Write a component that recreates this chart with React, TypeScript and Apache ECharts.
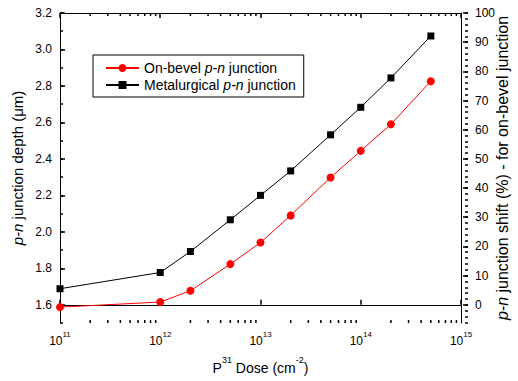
import React, { useEffect, useRef } from 'react';
import * as echarts from 'echarts';

const doses = [1e11, 1e12, 2e12, 5e12, 1e13, 2e13, 5e13, 1e14, 2e14, 5e14];
const onBevel = [1.587, 1.615, 1.677, 1.823, 1.941, 2.09, 2.298, 2.444, 2.59, 2.826];
const metallurgical = [1.688, 1.777, 1.892, 2.066, 2.2, 2.334, 2.532, 2.683, 2.844, 3.074];

const xDecades = [1e11, 1e12, 1e13, 1e14];
const xMinorMultipliers = [2, 3, 4, 5, 6, 7, 8, 9];
const seriesNames = ['On-bevel p-n junction', 'Metalurgical p-n junction'];

const FONT = '"Liberation Sans", Arial, Helvetica, sans-serif';
const TICK_W = 1.5;

const xMin = 1e11, xMax = 1e15;
const lMin = 1.5, lMax = 3.2;
const rMin = -6.25, rMax = 100;

export default function App() {
  const ref = useRef<HTMLDivElement>(null);
  useEffect(() => {
    if (!ref.current) return;
    const chart = echarts.init(ref.current, undefined, { renderer: 'svg' });

    const xMinorTicks: number[][] = [];
    xDecades.forEach((d) => xMinorMultipliers.forEach((m) => xMinorTicks.push([d * m, lMin])));

    const L = 60, R = 50, T = 13, B = 58;
    const H = 381 - T - B;
    const y16 = (1.6 - lMin) / (lMax - lMin) * H;
    const yMinus6 = (-6 - rMin) / (rMax - rMin) * H;

    const line = () => ({ color: '#000', width: 1 });
    const tick = () => ({ color: '#000', width: TICK_W, type: 'solid' });
    const rich15 = {
      n: { fontSize: 15, fontFamily: FONT, color: '#000' },
      i: { fontSize: 15, fontFamily: FONT, color: '#000', fontStyle: 'italic' },
    };
    const rich16 = {
      n: { fontSize: 16, fontFamily: FONT, color: '#000' },
      i: { fontSize: 16, fontFamily: FONT, color: '#000', fontStyle: 'italic' },
    };

    chart.setOption({
      animation: false,
      textStyle: { fontFamily: FONT },
      grid: [
        { left: L, right: R, top: T, bottom: B },
        { left: L, right: R, top: T, bottom: B + y16 },
        { left: L, right: R, top: T, bottom: B + yMinus6 },
      ],
      legend: {
        left: 93,
        top: 55,
        orient: 'vertical',
        backgroundColor: '#fff',
        borderColor: '#000',
        borderWidth: 1,
        borderRadius: 0,
        padding: [6, 8, 5, 12],
        itemGap: 3,
        itemWidth: 33,
        itemHeight: 10,
        data: seriesNames,
        formatter: (name: string) =>
          name.startsWith('On')
            ? '{n|On-bevel }{i|p-n}{n| junction}'
            : '{n|Metalurgical }{i|p-n}{n| junction}',
        textStyle: {
          rich: {
            n: { fontSize: 14, fontFamily: FONT, color: '#000' },
            i: { fontSize: 14, fontFamily: FONT, color: '#000', fontStyle: 'italic' },
          },
        },
      },
      xAxis: [
        {
          gridIndex: 0,
          type: 'log',
          logBase: 10,
          min: xMin,
          max: xMax,
          position: 'bottom',
          splitLine: { show: false },
          axisLine: { show: true, lineStyle: line() },
          axisTick: { show: true, inside: true, length: 5, lineStyle: tick() },
          axisLabel: {
            show: true,
            margin: 7,
            showMinLabel: true,
            showMaxLabel: true,
            formatter: (v: number) => `{b|10}{s|${Math.round(Math.log10(v))}}`,
            rich: {
              b: { fontSize: 12, fontFamily: FONT, color: '#000', lineHeight: 17, verticalAlign: 'bottom' },
              s: { fontSize: 8, fontFamily: FONT, color: '#000', lineHeight: 7, verticalAlign: 'top' },
            },
          },
          name: '{b|P}{s|31}{b| Dose (cm}{s|-2}{b|)}',
          nameLocation: 'middle',
          nameGap: 32,
          nameTextStyle: {
            rich: {
              b: { fontSize: 14, fontFamily: FONT, color: '#000', lineHeight: 20, verticalAlign: 'bottom' },
              s: { fontSize: 9, fontFamily: FONT, color: '#000', lineHeight: 9, verticalAlign: 'top' },
            },
          },
        },
        {
          gridIndex: 0,
          type: 'log',
          logBase: 10,
          min: xMin,
          max: xMax,
          position: 'top',
          splitLine: { show: false },
          axisLine: { show: true, lineStyle: line() },
          axisTick: { show: true, inside: true, length: 5, lineStyle: tick() },
          axisLabel: { show: false },
        },
        { gridIndex: 1, type: 'log', min: xMin, max: xMax, show: false },
        { gridIndex: 2, type: 'log', min: xMin, max: xMax, show: false },
      ],
      yAxis: [
        {
          gridIndex: 0,
          type: 'value',
          min: lMin,
          max: lMax,
          interval: 0.1,
          position: 'left',
          splitLine: { show: false },
          axisLine: { show: true, lineStyle: line() },
          axisTick: { show: true, inside: true, length: 3, lineStyle: tick() },
          axisLabel: { show: false },
          name: '{i|p-n}{n| junction depth (\u03bcm)}',
          nameLocation: 'middle',
          nameGap: 35,
          nameTextStyle: { rich: rich15, padding: [0, 0, 0, 0] },
        },
        {
          gridIndex: 0,
          type: 'value',
          min: rMin,
          max: rMax,
          position: 'right',
          splitLine: { show: false },
          axisLine: { show: true, lineStyle: line() },
          axisTick: { show: false },
          axisLabel: { show: false },
          name: '{i|p-n}{n| junction shift (%) - for on-bevel junction}',
          nameLocation: 'middle',
          nameGap: 33,
          nameRotate: 90,
          nameTextStyle: { rich: rich16 },
        },
        {
          gridIndex: 1,
          type: 'value',
          min: 1.6,
          max: lMax,
          interval: 0.2,
          position: 'left',
          splitLine: { show: false },
          axisLine: { show: false },
          axisTick: { show: true, inside: true, length: 5, lineStyle: tick() },
          axisLabel: {
            show: true,
            margin: 8,
            formatter: (v: number) => v.toFixed(1),
            color: '#000',
            fontSize: 12,
            fontFamily: FONT,
          },
        },
        {
          gridIndex: 1,
          type: 'value',
          min: 0,
          max: rMax,
          interval: 10,
          position: 'right',
          splitLine: { show: false },
          axisLine: { show: false },
          axisTick: { show: true, inside: true, length: 5, lineStyle: tick() },
          axisLabel: {
            show: true,
            margin: 7,
            color: '#000',
            fontSize: 12,
            fontFamily: FONT,
          },
        },
        {
          gridIndex: 2,
          type: 'value',
          min: -6,
          max: rMax,
          interval: 2,
          position: 'right',
          splitLine: { show: false },
          axisLine: { show: false },
          axisTick: { show: true, inside: true, length: 3, lineStyle: tick() },
          axisLabel: { show: false },
        },
      ],
      series: [
        {
          name: 'xMinorTicks',
          type: 'custom',
          xAxisIndex: 0,
          yAxisIndex: 0,
          silent: true,
          clip: false,
          data: xMinorTicks,
          renderItem: (_params: any, api: any) => {
            const x = api.value(0);
            const pb = api.coord([x, lMin]);
            const pt = api.coord([x, lMax]);
            const st = { stroke: '#000', lineWidth: TICK_W };
            return {
              type: 'group',
              children: [
                { type: 'line', shape: { x1: pb[0], y1: pb[1], x2: pb[0], y2: pb[1] - 3 }, style: st },
                { type: 'line', shape: { x1: pt[0], y1: pt[1], x2: pt[0], y2: pt[1] + 3 }, style: st },
              ],
            };
          },
        },
        {
          name: seriesNames[0],
          type: 'line',
          xAxisIndex: 0,
          yAxisIndex: 0,
          data: doses.map((d, i) => [d, onBevel[i]]),
          symbol: 'circle',
          symbolSize: 8,
          itemStyle: { color: '#ff0000' },
          lineStyle: { color: '#ff0000', width: 1 },
        },
        {
          name: seriesNames[1],
          type: 'line',
          xAxisIndex: 0,
          yAxisIndex: 0,
          data: doses.map((d, i) => [d, metallurgical[i]]),
          symbol: 'rect',
          symbolSize: 7,
          itemStyle: { color: '#000' },
          lineStyle: { color: '#000', width: 1 },
        },
      ],
    });
    return () => chart.dispose();
  }, []);
  return <div ref={ref} style={{ position: 'fixed', left: 0, top: 0, width: 518, height: 381, background: '#fff' }} />;
}
